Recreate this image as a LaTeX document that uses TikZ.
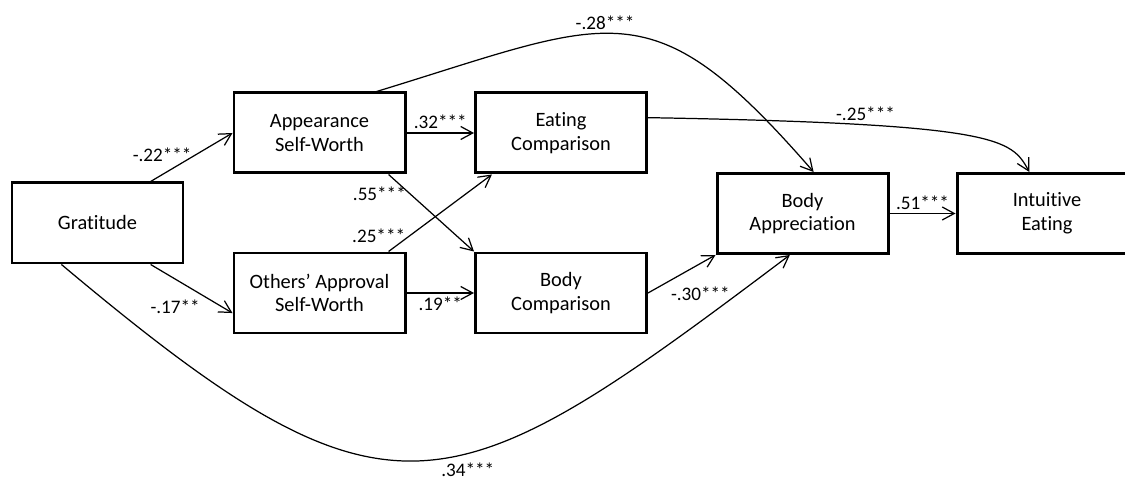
\documentclass[tikz,border=0pt]{standalone}
\usepackage{fontspec}
\setmainfont{Carlito}[Ligatures=NoCommon]
\usetikzlibrary{calc,arrows.meta}

\begin{document}
\begin{tikzpicture}[
    box/.style={draw=black, line width=1.7pt, align=center,
                minimum width=3.42cm, minimum height=1.60cm,
                font=\fontsize{11.6}{13.4}\selectfont},
    arrow/.style={-{Straight Barb[length=2.4mm, width=2.6mm]}, line width=0.7pt, draw=black},
    coef/.style={font=\fontsize{10.9}{12}\selectfont, inner sep=2pt}
  ]
    \useasboundingbox (0,0) rectangle (22.5,9.62);

    \node[box] (grat)  at (1.95, 5.16)  {Gratitude};
    \node[box] (asw)   at (6.39, 6.96)  {Appearance\\Self-Worth};
    \node[box] (osw)   at (6.39, 3.76)  {Others’ Approval\\Self-Worth};
    \node[box] (eat)   at (11.22,6.96)  {Eating\\Comparison};
    \node[box] (bodyc) at (11.22,3.76)  {Body\\Comparison};
    \node[box] (bapp)  at (16.05,5.35)  {Body\\Appreciation};
    \node[box, minimum width=3.6cm] (ie) at (20.94,5.35) {Intuitive\\Eating};

    \draw[arrow] (grat.38)  -- node[coef, left, pos=0.55] {-.22***} (asw.west);
    \draw[arrow] (grat.322) -- node[coef, below left, pos=0.65] {-.17**} (osw.193);

    \draw[arrow] (asw.east) -- node[coef, above] {.32***} (eat.west);
    \draw[arrow] (asw.329)  -- node[coef, left, pos=0.25] {.55***} (bodyc.north west);
    \draw[arrow] (osw.31)   -- node[coef, left, pos=0.2] {.25***} (eat.211);
    \draw[arrow] (osw.east) -- node[coef, below] {.19**} (bodyc.west);

    \draw[arrow] (bodyc.east) -- node[coef, below right, pos=0.28] {-.30***} (bapp.south west);
    \draw[arrow] (bapp.east)  -- node[coef, above] {.51***} (ie.west);

    % long paths bend round the middle boxes
    \draw[arrow] (asw.36) to[out=17, in=131, looseness=1.43]
      node[coef, above, pos=0.45] {-.28***} (bapp.75);
    \draw[arrow] (eat.10) to[out=-1, in=119, out looseness=2.34, in looseness=0.25]
      node[coef, above, pos=0.27] {-.25***} (ie.113);
    \draw[arrow] (grat.229) to[out=-40, in=217, looseness=1.51]
      node[coef, below=3pt, pos=0.58] {.34***} (bapp.253);
\end{tikzpicture}
\end{document}
